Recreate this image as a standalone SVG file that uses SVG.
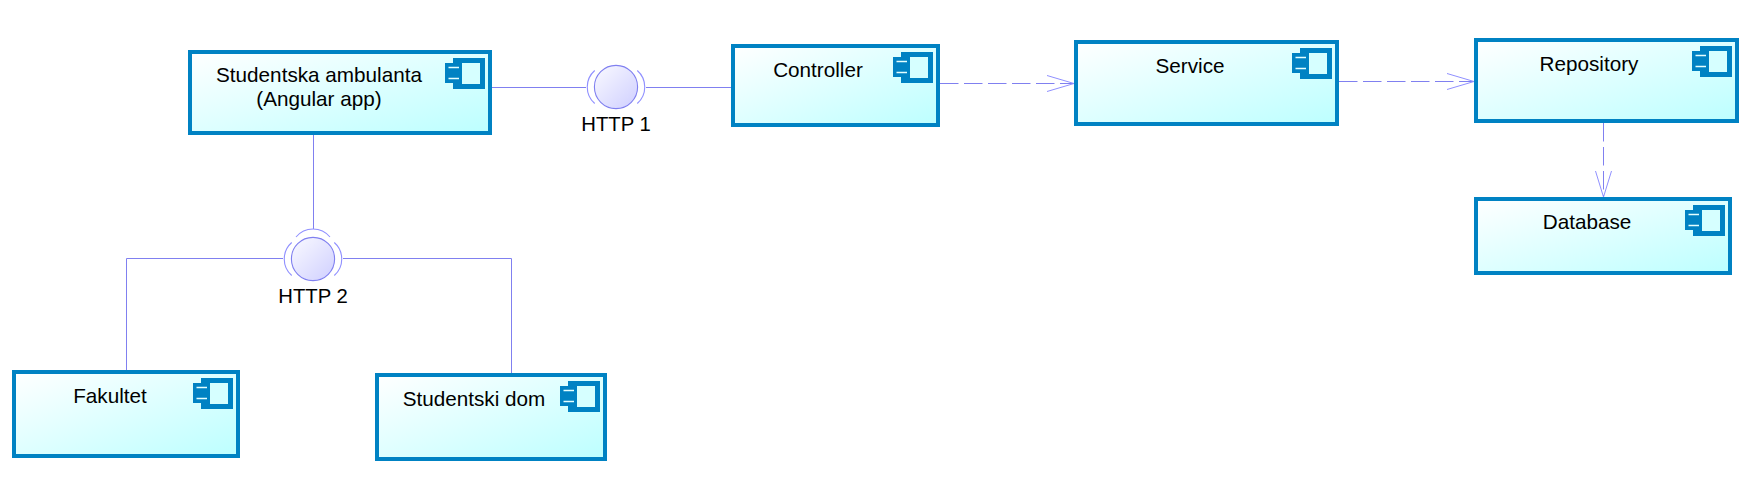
<svg xmlns="http://www.w3.org/2000/svg" width="1759" height="500" viewBox="0 0 1759 500">
<style>
.box{stroke:#0082c3;stroke-width:4;fill:url(#boxfill)}
.lbl{font-family:"Liberation Sans",Arial,sans-serif;font-size:20.700px;fill:#000;text-anchor:middle}
.ln{fill:none;stroke:#8080f0;stroke-width:1}
.dash{fill:none;stroke:#8080f0;stroke-width:1;stroke-dasharray:18.5 5.5}
.head{fill:none;stroke:#9090ff;stroke-width:1}
.ball{fill:url(#ballfill);stroke:#8080f0;stroke-width:1.100}
.arc{fill:none;stroke:#9090ff;stroke-width:1.100}
</style>
<defs>
<linearGradient id="boxfill" x1="0" y1="0" x2="1" y2="1"><stop offset="0" stop-color="#fff"/><stop offset="1" stop-color="#bcffff"/></linearGradient>
<linearGradient id="ballfill" x1="0" y1="0" x2="1" y2="1"><stop offset="0" stop-color="#fafaff"/><stop offset="1" stop-color="#cfcfff"/></linearGradient>
<g id="icon">
<rect x="17" y="5" width="18" height="21" fill="#d6ffff"/>
<path fill="#0082c3" fill-rule="evenodd" d="M8 0H40V31H8V25H0V5H8ZM17 5V26H35V5Z"/>
<path d="M3.500 9.500H14M3.500 20.500H14" stroke="#e4ffff" stroke-width="1.400" fill="none"/>
</g>
</defs>
<rect width="1759" height="500" fill="#fff"/>
<g id="connectors">
<path class="ln" d="M492 87.500H586M646 87.500H731"/>
<path class="ln" d="M313.500 135V229M283 258.500H126.500V370M343 258.500H511.500V373"/>
<path class="dash" d="M940 83.500H1074"/><path class="head" d="M1047 75.500L1074 83.500L1047 91.500"/>
<path class="dash" d="M1339 81.500H1474"/><path class="head" d="M1447 73.500L1474 81.500L1447 89.500"/>
<path class="dash" d="M1603.500 123V197"/><path class="head" d="M1595.500 171L1603.500 197L1611.500 171"/>
</g>
<g id="http1">
<circle class="ball" cx="616" cy="87" r="21.600"/>
<path class="arc" d="M594.700 70.500A22 22 0 0 0 594.700 103.500M637.300 70.500A22 22 0 0 1 637.300 103.500"/>
<text class="lbl" x="616" y="131" style="font-size:20.300px">HTTP 1</text>
</g>
<g id="http2">
<circle class="ball" cx="313" cy="259" r="21.600"/>
<path class="arc" d="M291.700 242.500A22 22 0 0 0 291.700 275.500M334.300 242.500A22 22 0 0 1 334.300 275.500M296 237A22 22 0 0 1 330 237"/>
<text class="lbl" x="313" y="303" style="font-size:20.300px">HTTP 2</text>
</g>
<g id="ambulanta"><rect class="box" x="190" y="52" width="300" height="81"/><use href="#icon" x="445" y="58"/><text class="lbl" x="319" y="82">Studentska ambulanta</text><text class="lbl" x="319" y="106">(Angular app)</text></g>
<g id="controller"><rect class="box" x="733" y="46" width="205" height="79"/><use href="#icon" x="893" y="52"/><text class="lbl" x="818" y="77">Controller</text></g>
<g id="service"><rect class="box" x="1076" y="42" width="261" height="82"/><use href="#icon" x="1292" y="48"/><text class="lbl" x="1190" y="73">Service</text></g>
<g id="repository"><rect class="box" x="1476" y="40" width="261" height="81"/><use href="#icon" x="1692" y="46"/><text class="lbl" x="1589" y="71">Repository</text></g>
<g id="database"><rect class="box" x="1476" y="199" width="254" height="74"/><use href="#icon" x="1685" y="205"/><text class="lbl" x="1587" y="229">Database</text></g>
<g id="fakultet"><rect class="box" x="14" y="372" width="224" height="84"/><use href="#icon" x="193" y="378"/><text class="lbl" x="110" y="403">Fakultet</text></g>
<g id="studentski"><rect class="box" x="377" y="375" width="228" height="84"/><use href="#icon" x="560" y="381"/><text class="lbl" x="474" y="406">Studentski dom</text></g>
</svg>
